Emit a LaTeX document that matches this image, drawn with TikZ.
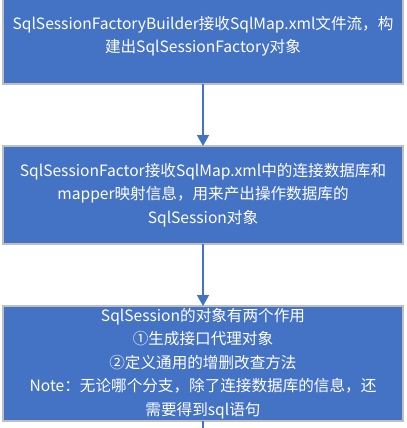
\documentclass[tikz,border=0pt]{standalone}
\usepackage{fontspec}
\newfontfamily\cjk{Noto Sans CJK SC}
\usetikzlibrary{arrows.meta}
\definecolor{boxblue}{HTML}{4472C4}
\definecolor{boxgray}{HTML}{BFBFBF}
\begin{document}
\begin{tikzpicture}[x=1bp, y=1bp, font=\cjk\fontsize{15.6bp}{23.5bp}\selectfont,
	flowbox/.style={draw=boxgray, line width=1.2bp, fill=boxblue, text=white, minimum width=400bp, text width=396bp, align=center, inner sep=0pt, outer sep=0pt, anchor=center},
	flowarrow/.style={draw=boxblue, line width=1.5bp, -{Triangle[width=12bp, length=11bp]}}]
	\useasboundingbox (0, 0) rectangle (407, -428);
	
	% Builder
	\node[flowbox, minimum height=96bp] (builder) at (203, -36) {SqlSessionFactoryBuilder接收SqlMap.xml文件流，构\\建出SqlSessionFactory对象};
	
	% Factory
	\node[flowbox, minimum height=98bp] (factory) at (203, -195) {SqlSessionFactor接收SqlMap.xml中的连接数据库和\\mapper映射信息，用来产出操作数据库的\\SqlSession对象};
	
	% Session
	\node[flowbox, minimum height=115bp] (session) at (203, -363.5) {SqlSession的对象有两个作用\\①生成接口代理对象\\②定义通用的增删改查方法\\Note：无论哪个分支，除了连接数据库的信息，还\\需要得到sql语句};
	\coordinate (below) at (203, -445);
	
	\draw[flowarrow] (builder) -- (factory);
	\draw[flowarrow] (factory) -- (session);
	\draw[draw=boxblue, line width=1.5bp] (session) -- (below);
	
\end{tikzpicture}
\end{document}
